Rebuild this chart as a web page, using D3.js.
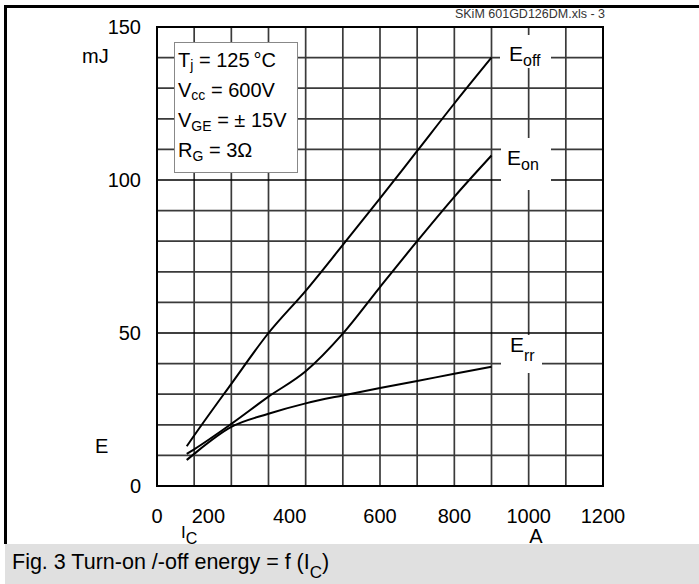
<!DOCTYPE html>
<html><head><meta charset="utf-8">
<script src="https://cdn.jsdelivr.net/npm/d3@7"></script>
<style>
html,body{margin:0;padding:0;background:#fff;}
svg{display:block;}
text{font-family:"Liberation Sans",Arial,Helvetica,sans-serif;fill:#000;}
</style></head>
<body>
<script>
// ---- data ----
const currentA = [80, 100, 200, 300, 400, 500, 600, 700, 800, 900];
const Eoff = [13, 16.5, 33.4, 50, 63.8, 78.8, 94, 109.5, 125, 140];
const Eon  = [10.5, 12.0, 20.3, 29.2, 37.5, 49.8, 65, 80, 94.5, 108];
const Err  = [8.5, 10.5, 19.3, 23.6, 27, 29.6, 32, 34.3, 36.7, 39];
const xTicks = [0, 200, 400, 600, 800, 1000, 1200];
const yTicks = [0, 50, 100, 150];
const conditions = [
  ["T", "j", " = 125\u2009°C"],
  ["V", "cc", " = 600V"],
  ["V", "GE", " = ± 15V"],
  ["R", "G", " = 3Ω"]
];
const seriesNames = [["E", "off"], ["E", "on"], ["E", "rr"]];

const W = 699, H = 584;
const svg = d3.select("body").append("svg").attr("width", W).attr("height", H);
svg.append("rect").attr("width", W).attr("height", H).attr("fill", "#fff");

const x = d3.scaleLinear().domain([0, 1200]).range([157, 603]);
const y = d3.scaleLinear().domain([0, 150]).range([486, 27]);

// grid
const g = svg.append("g");
g.selectAll("line.v").data(d3.range(100, 1200, 100)).enter().append("line")
  .attr("x1", d => x(d)).attr("x2", d => x(d)).attr("y1", y(0)).attr("y2", y(150))
  .attr("stroke", "#3a3a3a").attr("stroke-width", 1.7);
g.selectAll("line.h").data(d3.range(10, 150, 10)).enter().append("line")
  .attr("x1", x(0)).attr("x2", x(1200)).attr("y1", d => y(d)).attr("y2", d => y(d))
  .attr("stroke", d => d % 50 === 0 ? "#000" : "#3a3a3a")
  .attr("stroke-width", d => d % 50 === 0 ? 1.3 : 1.7);

// white label boxes (gaps in grid)
const labelBoxes = [[500, 35, 51, 33], [501, 138, 50, 52], [501, 335, 41, 38]];
svg.selectAll("rect.lb").data(labelBoxes).enter().append("rect")
  .attr("x", d => d[0]).attr("y", d => d[1]).attr("width", d => d[2]).attr("height", d => d[3])
  .attr("fill", "#fff");

// plot frame
svg.append("rect").attr("x", x(0)).attr("y", y(150)).attr("width", x(1200) - x(0)).attr("height", y(0) - y(150))
  .attr("fill", "none").attr("stroke", "#000").attr("stroke-width", 2);

// curves
const line = d3.line().x((d, i) => x(currentA[i])).y(d => y(d)).curve(d3.curveMonotoneX);
[Eoff, Eon, Err].forEach(s => {
  svg.append("path").attr("d", line(s)).attr("fill", "none").attr("stroke", "#000").attr("stroke-width", 2);
});

// curve labels
const labelPos = [[509, 61, 66], [507, 165, 170], [510, 352, 361]];
seriesNames.forEach((n, i) => {
  const t = svg.append("text").attr("x", labelPos[i][0]).attr("y", labelPos[i][1]).attr("font-size", 21);
  t.append("tspan").text(n[0]);
  t.append("tspan").attr("y", labelPos[i][2]).attr("font-size", 16).text(n[1]);
});

// legend box
svg.append("rect").attr("x", 174.5).attr("y", 42.5).attr("width", 123).attr("height", 130)
  .attr("fill", "#fff").attr("stroke", "#888").attr("stroke-width", 1);
const subShift = [3, 3, 4, 4];
conditions.forEach((c, i) => {
  const by = 67 + i * 30;
  const t = svg.append("text").attr("x", 178).attr("y", by).attr("font-size", 20);
  t.append("tspan").text(c[0]);
  t.append("tspan").attr("y", by + subShift[i]).attr("font-size", 14).text(c[1]);
  t.append("tspan").attr("y", by).text(c[2]);
});

// y tick labels
svg.selectAll("text.yt").data(yTicks).enter().append("text")
  .attr("x", 141).attr("y", d => y(d)).attr("dy", "0.35em").attr("text-anchor", "end")
  .attr("font-size", 20).text(d => d);

// x tick labels
const xLabelShift = {0: 0, 200: -23, 400: -16};
svg.selectAll("text.xt").data(xTicks).enter().append("text")
  .attr("x", d => x(d) + (xLabelShift[d] || 0)).attr("y", 523).attr("text-anchor", "middle")
  .attr("font-size", 20).text(d => d);

// axis labels
svg.append("text").attr("x", 82).attr("y", 63).attr("font-size", 20).text("mJ");
svg.append("text").attr("x", 95).attr("y", 453).attr("font-size", 20).text("E");
svg.append("text").attr("x", 536).attr("y", 543).attr("text-anchor", "middle").attr("font-size", 20).text("A");

// caption bar
svg.append("rect").attr("x", 5).attr("y", 544).attr("width", W - 5).attr("height", H - 544).attr("fill", "#e0e0e0");
const cap = svg.append("text").attr("x", 12).attr("y", 569).attr("font-size", 21.5);
cap.append("tspan").text("Fig. 3 Turn-on /-off energy = f (I");
cap.append("tspan").attr("y", 578).attr("font-size", 17).text("C");
cap.append("tspan").attr("y", 569).text(")");

// I_C label
const ic = svg.append("text").attr("x", 181).attr("y", 538).attr("font-size", 17);
ic.append("tspan").text("I");
ic.append("tspan").attr("y", 544).attr("font-size", 16).text("C");

// frame lines
svg.append("line").attr("x1", 4).attr("x2", W).attr("y1", 6.5).attr("y2", 6.5).attr("stroke", "#000").attr("stroke-width", 3);
svg.append("line").attr("x1", 5.5).attr("x2", 5.5).attr("y1", 5).attr("y2", 544).attr("stroke", "#000").attr("stroke-width", 3);

// file reference
svg.append("text").attr("x", 605).attr("y", 18).attr("text-anchor", "end").attr("font-size", 12.5)
  .style("fill", "#333").text("SKiM 601GD126DM.xls - 3");
</script>
</body></html>
